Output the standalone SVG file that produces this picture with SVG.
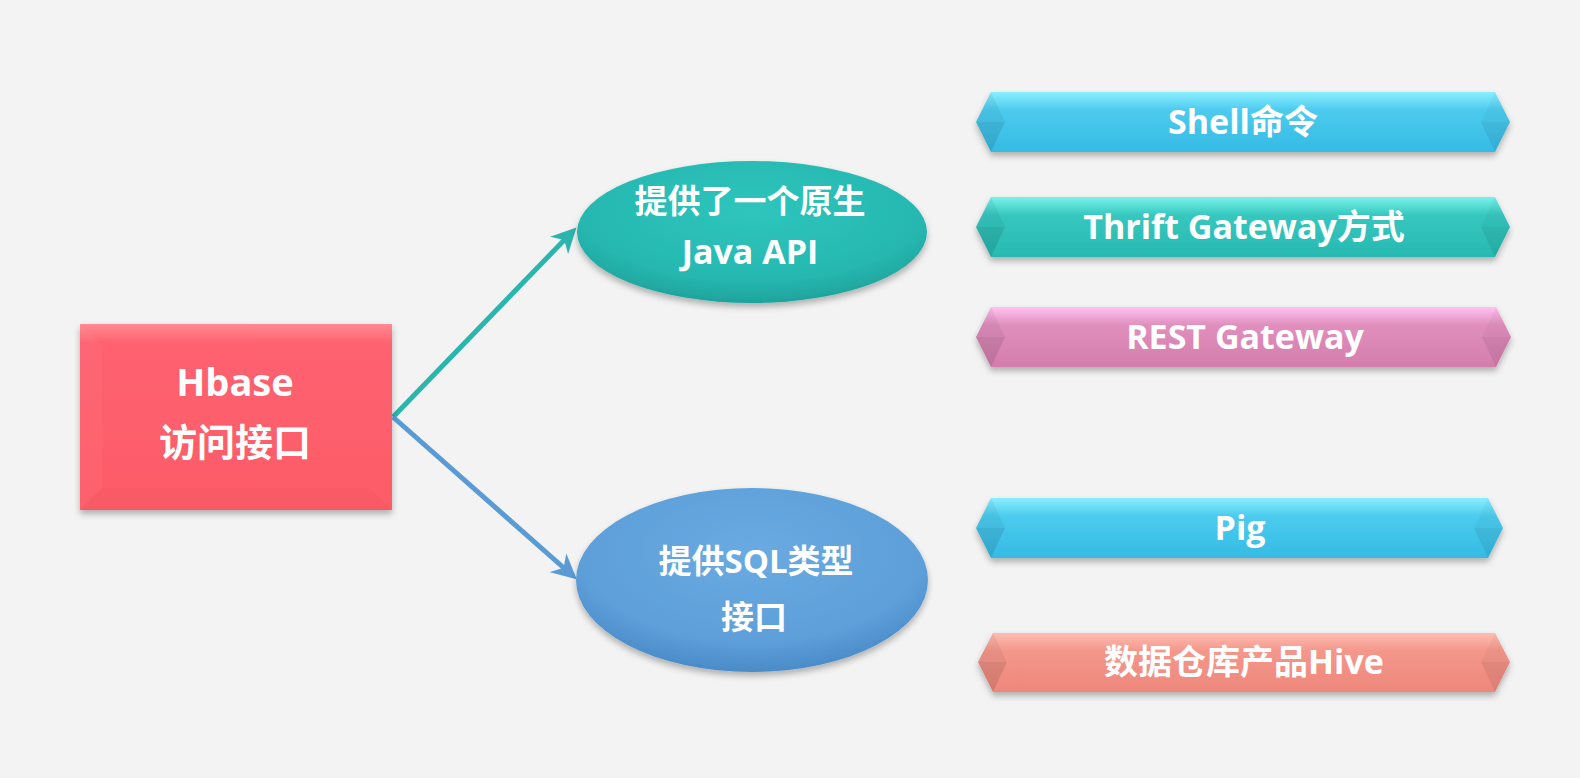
<svg xmlns="http://www.w3.org/2000/svg" width="1580" height="778" viewBox="0 0 1580 778">
<defs>
<style>
.t{font-family:"Open Sans","Noto Sans CJK SC",sans-serif;font-weight:bold;fill:#ffffff;text-anchor:middle}
.t38{font-size:38px}
.t34{font-size:34px}
.t33{font-size:33px}
</style>
<filter id="sh" x="-10%" y="-20%" width="120%" height="150%">
<feDropShadow dx="0" dy="4" stdDeviation="3" flood-color="#000" flood-opacity="0.28"/>
</filter>
<marker id="ahT" viewBox="0 0 10 10" refX="8" refY="5" markerWidth="5" markerHeight="5" orient="auto" markerUnits="strokeWidth">
<path d="M0,0 L10,5 L0,10 L3,5 z" fill="#2ab5ad"/>
</marker>
<marker id="ahB" viewBox="0 0 10 10" refX="8" refY="5" markerWidth="5" markerHeight="5" orient="auto" markerUnits="strokeWidth">
<path d="M0,0 L10,5 L0,10 L3,5 z" fill="#5b9bd5"/>
</marker>
<linearGradient id="gRect" x1="0" y1="0" x2="0" y2="1">
<stop offset="0" stop-color="#ff8a93"/>
<stop offset="0.1" stop-color="#fe6270"/>
<stop offset="1" stop-color="#fd5b68"/>
</linearGradient>
<radialGradient id="gE1" cx="0.5" cy="0.35" r="0.65">
<stop offset="0" stop-color="#2ec5bd"/>
<stop offset="0.75" stop-color="#26b8b0"/>
<stop offset="1" stop-color="#1ea39c"/>
</radialGradient>
<radialGradient id="gE2" cx="0.5" cy="0.35" r="0.65">
<stop offset="0" stop-color="#6aaae2"/>
<stop offset="0.75" stop-color="#5d9fd9"/>
<stop offset="1" stop-color="#4a8bc8"/>
</radialGradient>
<linearGradient id="gCy" x1="0" y1="0" x2="0" y2="1">
<stop offset="0" stop-color="#8aefff"/>
<stop offset="0.3" stop-color="#4ccbee"/>
<stop offset="1" stop-color="#35bbe4"/>
</linearGradient>
<linearGradient id="gTe" x1="0" y1="0" x2="0" y2="1">
<stop offset="0" stop-color="#78f3ec"/>
<stop offset="0.3" stop-color="#36c7bf"/>
<stop offset="1" stop-color="#27b9b1"/>
</linearGradient>
<linearGradient id="gPk" x1="0" y1="0" x2="0" y2="1">
<stop offset="0" stop-color="#ffc2f2"/>
<stop offset="0.3" stop-color="#e08fbd"/>
<stop offset="1" stop-color="#d47dad"/>
</linearGradient>
<linearGradient id="gSa" x1="0" y1="0" x2="0" y2="1">
<stop offset="0" stop-color="#ffbdb2"/>
<stop offset="0.3" stop-color="#f4978b"/>
<stop offset="1" stop-color="#ee877b"/>
</linearGradient>
</defs>
<rect x="0" y="0" width="1580" height="778" fill="#f3f3f4"/>

<g id="connectors">
<line x1="393" y1="417" x2="573" y2="231" stroke="#2ab5ad" stroke-width="5" marker-end="url(#ahT)"/>
<line x1="393" y1="417" x2="573" y2="576" stroke="#5b9bd5" stroke-width="5" marker-end="url(#ahB)"/>
</g>

<g id="hbase">
<g filter="url(#sh)">
<rect x="80" y="324" width="312" height="186" fill="url(#gRect)"/>
</g>
<polygon points="80,510 392,510 370,488 102,488" fill="#000000" opacity="0.02"/>
<polygon points="80,324 102,346 102,488 80,510" fill="#ffffff" opacity="0.03"/>
<text class="t t38" x="235" y="396">Hbase</text>
<text class="t t38" x="235" y="456">访问接口</text>
</g>

<g id="java-api">
<ellipse cx="752" cy="232" rx="175" ry="71" fill="url(#gE1)" filter="url(#sh)"/>
<text class="t t33" x="750" y="213">提供了一个原生</text>
<text class="t t34" x="750" y="264">Java API</text>
</g>

<g id="sql">
<ellipse cx="752" cy="580" rx="176" ry="92" fill="url(#gE2)" filter="url(#sh)"/>
<text class="t t33" x="756" y="573">提供SQL类型</text>
<text class="t t33" x="754" y="629">接口</text>
</g>

<g id="shell">
<polygon points="976,122 991,92 1495,92 1510,122 1495,152 991,152" fill="url(#gCy)" filter="url(#sh)"/>
<polygon points="976,122 991,92 1005,122" fill="#000" opacity="0.05"/>
<polygon points="976,122 1005,122 991,152" fill="#000" opacity="0.1"/>
<polygon points="1510,122 1495,92 1481,122" fill="#000" opacity="0.03"/>
<polygon points="1510,122 1481,122 1495,152" fill="#000" opacity="0.07"/>
<text class="t t34" x="1243" y="134">Shell命令</text>
</g>

<g id="thrift">
<polygon points="976,227 991,197 1495,197 1510,227 1495,257 991,257" fill="url(#gTe)" filter="url(#sh)"/>
<polygon points="976,227 991,197 1005,227" fill="#000" opacity="0.05"/>
<polygon points="976,227 1005,227 991,257" fill="#000" opacity="0.1"/>
<polygon points="1510,227 1495,197 1481,227" fill="#000" opacity="0.03"/>
<polygon points="1510,227 1481,227 1495,257" fill="#000" opacity="0.07"/>
<text class="t t34" x="1244" y="239">Thrift Gateway方式</text>
</g>

<g id="rest">
<polygon points="976,337 991,307 1496,307 1511,337 1496,367 991,367" fill="url(#gPk)" filter="url(#sh)"/>
<polygon points="976,337 991,307 1005,337" fill="#000" opacity="0.05"/>
<polygon points="976,337 1005,337 991,367" fill="#000" opacity="0.1"/>
<polygon points="1511,337 1496,307 1482,337" fill="#000" opacity="0.03"/>
<polygon points="1511,337 1482,337 1496,367" fill="#000" opacity="0.07"/>
<text class="t t34" x="1245" y="349">REST Gateway</text>
</g>

<g id="pig">
<polygon points="976,528 991,498 1488,498 1503,528 1488,558 991,558" fill="url(#gCy)" filter="url(#sh)"/>
<polygon points="976,528 991,498 1005,528" fill="#000" opacity="0.05"/>
<polygon points="976,528 1005,528 991,558" fill="#000" opacity="0.1"/>
<polygon points="1503,528 1488,498 1474,528" fill="#000" opacity="0.03"/>
<polygon points="1503,528 1474,528 1488,558" fill="#000" opacity="0.07"/>
<text class="t t34" x="1240" y="540">Pig</text>
</g>

<g id="hive">
<polygon points="978,662 993,633 1495,633 1510,662 1495,692 993,692" fill="url(#gSa)" filter="url(#sh)"/>
<polygon points="978,662 993,633 1007,662" fill="#000" opacity="0.05"/>
<polygon points="978,662 1007,662 993,692" fill="#000" opacity="0.1"/>
<polygon points="1510,662 1495,633 1481,662" fill="#000" opacity="0.03"/>
<polygon points="1510,662 1481,662 1495,692" fill="#000" opacity="0.07"/>
<text class="t t34" x="1244" y="674">数据仓库产品Hive</text>
</g>
</svg>
